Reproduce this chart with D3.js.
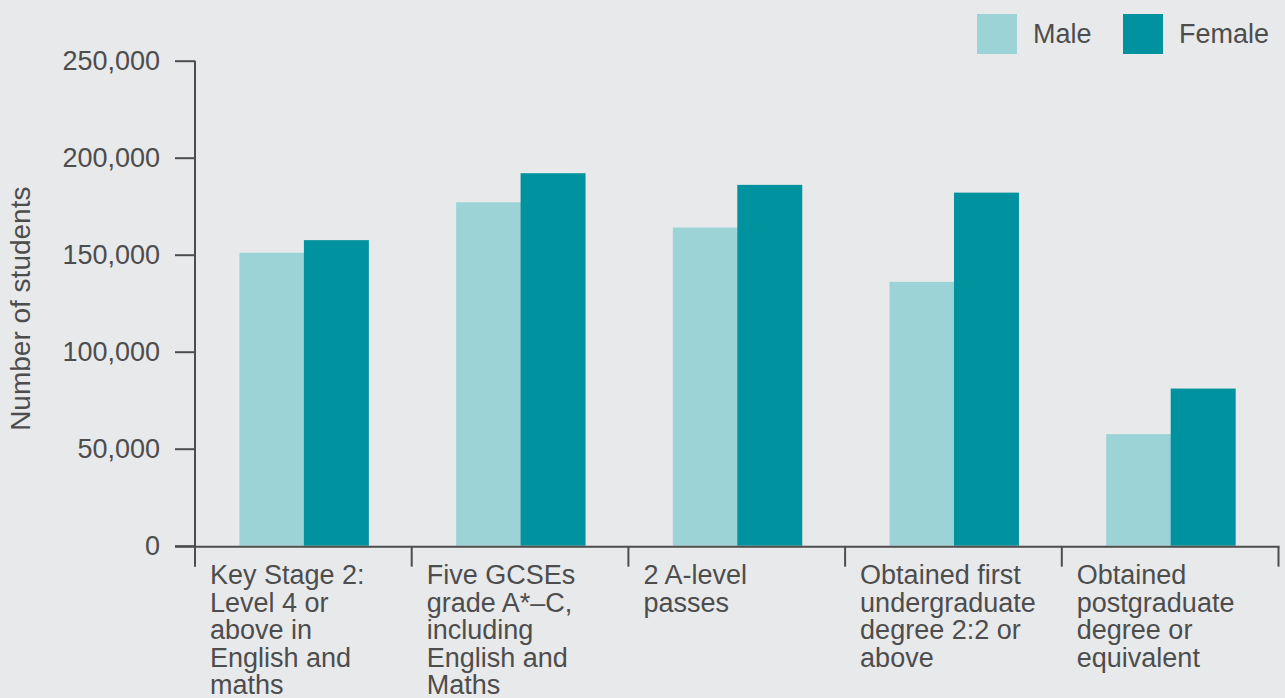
<!DOCTYPE html>
<html>
<head>
<meta charset="utf-8">
<script src="https://cdn.jsdelivr.net/npm/d3@7"></script>
<style>
  html, body { margin: 0; padding: 0; background: #e8e9eb; }
  svg { display: block; }
  text { font-family: "Liberation Sans", Arial, Helvetica, sans-serif; fill: #4d4d4d; }
</style>
</head>
<body>
<svg id="chart" width="1285" height="698"></svg>
<script>
const categories = [
  "Key Stage 2: Level 4 or above in English and maths",
  "Five GCSEs grade A*–C, including English and Maths",
  "2 A-level passes",
  "Obtained first undergraduate degree 2:2 or above",
  "Obtained postgraduate degree or equivalent"
];
const categoryLines = [
  ["Key Stage 2:", "Level 4 or", "above in", "English and", "maths"],
  ["Five GCSEs", "grade A*–C,", "including", "English and", "Maths"],
  ["2 A-level", "passes"],
  ["Obtained first", "undergraduate", "degree 2:2 or", "above"],
  ["Obtained", "postgraduate", "degree or", "equivalent"]
];
const seriesNames = ["Male", "Female"];
const maleValues = [151000, 177000, 164000, 136000, 57500];
const femaleValues = [157500, 192000, 186000, 182000, 81000];
const yTicks = [0, 50000, 100000, 150000, 200000, 250000];
const colors = ["#9bd3d7", "#00929f"];
const axisColor = "#4d4d4d";

const svg = d3.select("#chart");
const pLeft = 195, pRight = 1278.5, pTop = 60.7, pBottom = 545.7;

const x0 = d3.scaleBand().domain(categories).range([pLeft, pRight]).padding(0);
const x1 = d3.scaleBand().domain(seriesNames)
  .range([x0.bandwidth() * 0.205, x0.bandwidth() * 0.80]).padding(0);
const y = d3.scaleLinear().domain([0, 250000]).range([pBottom, pTop]);

const data = categories.map((c, i) => ({
  cat: c,
  vals: [{ s: "Male", v: maleValues[i] }, { s: "Female", v: femaleValues[i] }]
}));

// bars
const g = svg.append("g");
g.selectAll("g.grp").data(data).join("g")
  .attr("class", "grp")
  .attr("transform", d => `translate(${x0(d.cat)},0)`)
  .selectAll("rect").data(d => d.vals).join("rect")
  .attr("x", d => x1(d.s))
  .attr("width", x1.bandwidth() + 0.5)
  .attr("y", d => y(d.v))
  .attr("height", d => y(0) - y(d.v))
  .attr("fill", (d, i) => colors[i]);

// y axis
const yAxis = svg.append("g")
  .attr("transform", `translate(${pLeft},0)`)
  .call(d3.axisLeft(y).tickValues(yTicks).tickFormat(d3.format(",")).tickSize(20).tickPadding(15));
yAxis.select(".domain").attr("stroke", axisColor).attr("stroke-width", 2).attr("d", `M-0,${pTop}V${pBottom + 1}`);
yAxis.selectAll(".tick line").attr("stroke", axisColor).attr("stroke-width", 2);
yAxis.selectAll(".tick text").style("font-size", "27px").attr("fill", "#4d4d4d")
  .style("font-family", "Liberation Sans, Arial, sans-serif");

// x axis
const xAxisY = pBottom + 1;
const xg = svg.append("g");
xg.append("line").attr("x1", pLeft - 20).attr("x2", pRight + 1)
  .attr("y1", xAxisY).attr("y2", xAxisY)
  .attr("stroke", axisColor).attr("stroke-width", 2);
const boundaries = categories.map(c => x0(c)).concat([x0.range()[1]]);
xg.selectAll("line.bt").data(boundaries).join("line")
  .attr("class", "bt")
  .attr("x1", d => d).attr("x2", d => d)
  .attr("y1", xAxisY).attr("y2", xAxisY + 20)
  .attr("stroke", axisColor).attr("stroke-width", 2);

const labels = xg.selectAll("text.xl").data(categories).join("text")
  .attr("class", "xl")
  .attr("x", d => x0(d) + 15)
  .attr("y", 584)
  .style("font-size", "27px");
labels.selectAll("tspan").data((d, i) => categoryLines[i]).join("tspan")
  .attr("x", function () { return this.parentNode.getAttribute("x"); })
  .attr("dy", (d, i) => i === 0 ? 0 : 27.5)
  .text(d => d);

// y axis title
svg.append("text")
  .attr("transform", `translate(30,308.7) rotate(-90)`)
  .attr("text-anchor", "middle")
  .style("font-size", "28px")
  .text("Number of students");

// legend
const legendX = [977, 1123];
const lg = svg.append("g");
seriesNames.forEach((s, i) => {
  lg.append("rect").attr("x", legendX[i]).attr("y", 14).attr("width", 40).attr("height", 40).attr("fill", colors[i]);
  lg.append("text").attr("x", legendX[i] + 56).attr("y", 43).style("font-size", "27px").text(s);
});
</script>
</body>
</html>
